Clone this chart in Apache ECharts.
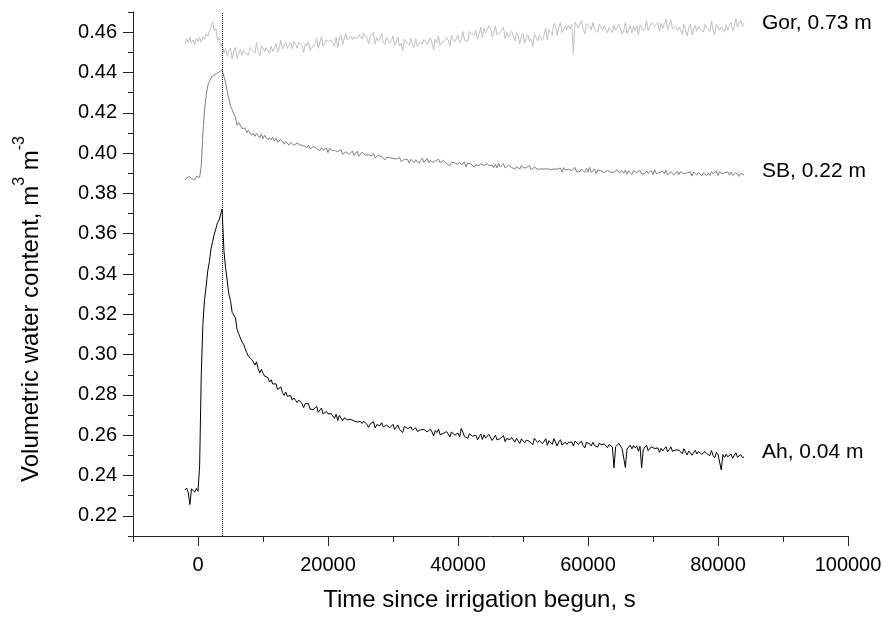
<!DOCTYPE html>
<html>
<head>
<meta charset="utf-8">
<script src="https://cdn.jsdelivr.net/npm/echarts/dist/echarts.min.js"></script>
<style>
html,body{margin:0;padding:0;background:#fff;}
#chart{width:886px;height:618px;}
</style>
</head>
<body>
<div id="chart"></div>
<script>
// Time since irrigation begun, s
const time = [-2000,-1750,-1500,-1250,-1000,-750,-500,-250,0,
250,500,750,1000,1250,1500,1750,2000,2250,2500,2750,3000,3250,3500,
3700,4000,4250,4500,4750,
5000,5250,5500,5750,6000,6250,6500,6750,
7000,7250,7500,7750,8000,8250,8500,8750,
9000,9250,9500,9750,10000,10250,10500,10750,
11000,11250,11500,11750,12000,12250,12500,12750,
13000,13250,13500,13750,14000,14250,14500,14750,
15000,15250,15500,15750,16000,16250,16500,16750,
17000,17250,17500,17750,18000,18250,18500,18750,
19000,19250,19500,19750,20000,20250,20500,20750,
21000,21250,21500,21750,22000,22250,22500,22750,
23000,23250,23500,23750,24000,24250,24500,24750,
25000,25250,25500,25750,26000,26250,26500,26750,
27000,27250,27500,27750,28000,28250,28500,28750,
29000,29250,29500,29750,30000,30250,30500,30750,
31000,31250,31500,31750,32000,32250,32500,32750,
33000,33250,33500,33750,34000,34250,34500,34750,
35000,35250,35500,35750,36000,36250,36500,36750,
37000,37250,37500,37750,38000,38250,38500,38750,
39000,39250,39500,39750,40000,40250,40500,40750,
41000,41250,41500,41750,42000,42250,42500,42750,
43000,43250,43500,43750,44000,44250,44500,44750,
45000,45250,45500,45750,46000,46250,46500,46750,
47000,47250,47500,47750,48000,48250,48500,48750,
49000,49250,49500,49750,50000,50250,50500,50750,
51000,51250,51500,51750,52000,52250,52500,52750,
53000,53250,53500,53750,54000,54250,54500,54750,
55000,55250,55500,55750,56000,56250,56500,56750,
57000,57250,57500,57750,58000,58250,58500,58750,
59000,59250,59500,59750,60000,60250,60500,60750,
61000,61250,61500,61750,62000,62250,62500,62750,
63000,63250,63500,63750,64000,64250,64500,64750,
65000,65250,65500,65750,66000,66250,66500,66750,
67000,67250,67500,67750,68000,68250,68500,68750,
69000,69250,69500,69750,70000,70250,70500,70750,
71000,71250,71500,71750,72000,72250,72500,72750,
73000,73250,73500,73750,74000,74250,74500,74750,
75000,75250,75500,75750,76000,76250,76500,76750,
77000,77250,77500,77750,78000,78250,78500,78750,
79000,79250,79500,79750,80000,80250,80500,80750,
81000,81250,81500,81750,82000,82250,82500,82750,
83000,83250,83500,83750,84000];

// Gor, 0.73 m
const gor = [0.4540,0.4568,0.4548,0.4575,0.4545,0.4562,0.4538,0.4570,0.4552,
0.4575,0.4550,0.4578,0.4565,0.4592,0.4580,0.4605,0.4625,0.4650,0.4605,0.4618,0.4560,0.4575,0.4530,
0.4545,0.4495,0.4520,0.4482,0.4510,
0.4521,0.4468,0.4506,0.4523,0.4469,0.4472,0.4516,0.4486,
0.4512,0.4497,0.4495,0.4485,0.4525,0.4513,0.4504,0.4495,
0.4548,0.4502,0.4482,0.4534,0.4522,0.4504,0.4523,0.4525,
0.4495,0.4531,0.4504,0.4522,0.4542,0.4501,0.4520,0.4560,
0.4516,0.4509,0.4551,0.4520,0.4536,0.4551,0.4517,0.4554,
0.4539,0.4521,0.4550,0.4551,0.4532,0.4498,0.4543,0.4532,
0.4552,0.4508,0.4523,0.4520,0.4544,0.4568,0.4520,0.4527,
0.4578,0.4528,0.4529,0.4562,0.4552,0.4543,0.4561,0.4569,
0.4531,0.4575,0.4522,0.4577,0.4587,0.4539,0.4571,0.4592,
0.4562,0.4558,0.4580,0.4563,0.4576,0.4579,0.4568,0.4587,
0.4586,0.4566,0.4594,0.4588,0.4569,0.4542,0.4580,0.4579,
0.4598,0.4542,0.4574,0.4555,0.4569,0.4593,0.4551,0.4539,
0.4575,0.4557,0.4544,0.4559,0.4580,0.4533,0.4551,0.4577,
0.4532,0.4544,0.4507,0.4566,0.4558,0.4544,0.4534,0.4569,
0.4535,0.4525,0.4567,0.4529,0.4542,0.4552,0.4540,0.4563,
0.4553,0.4540,0.4543,0.4572,0.4544,0.4512,0.4565,0.4547,
0.4582,0.4533,0.4547,0.4546,0.4560,0.4574,0.4558,0.4531,
0.4583,0.4564,0.4553,0.4562,0.4585,0.4548,0.4563,0.4603,
0.4561,0.4568,0.4554,0.4603,0.4592,0.4583,0.4587,0.4608,
0.4565,0.4591,0.4624,0.4571,0.4620,0.4596,0.4587,0.4631,
0.4618,0.4576,0.4595,0.4632,0.4587,0.4589,0.4599,0.4596,
0.4625,0.4568,0.4599,0.4575,0.4587,0.4606,0.4584,0.4558,
0.4598,0.4582,0.4542,0.4583,0.4593,0.4545,0.4570,0.4587,
0.4555,0.4565,0.4528,0.4591,0.4575,0.4556,0.4583,0.4588,
0.4560,0.4586,0.4620,0.4562,0.4613,0.4599,0.4585,0.4644,
0.4632,0.4583,0.4623,0.4648,0.4598,0.4606,0.4629,0.4613,
0.4634,0.4615,0.4638,0.4494,0.4650,0.4636,0.4621,0.4618,
0.4657,0.4614,0.4592,0.4642,0.4638,0.4628,0.4613,0.4648,
0.4614,0.4617,0.4600,0.4641,0.4625,0.4610,0.4631,0.4637,
0.4596,0.4623,0.4627,0.4599,0.4635,0.4609,0.4605,0.4640,
0.4638,0.4591,0.4609,0.4647,0.4592,0.4587,0.4632,0.4597,
0.4631,0.4608,0.4632,0.4586,0.4635,0.4630,0.4608,0.4618,
0.4657,0.4607,0.4608,0.4646,0.4637,0.4631,0.4628,0.4647,
0.4604,0.4644,0.4617,0.4644,0.4664,0.4612,0.4636,0.4661,
0.4615,0.4612,0.4630,0.4608,0.4626,0.4635,0.4589,0.4639,
0.4633,0.4582,0.4621,0.4640,0.4587,0.4590,0.4634,0.4604,
0.4630,0.4614,0.4610,0.4600,0.4638,0.4624,0.4614,0.4603,
0.4655,0.4608,0.4587,0.4639,0.4626,0.4608,0.4627,0.4630,
0.4600,0.4637,0.4610,0.4629,0.4649,0.4608,0.4628,0.4667,
0.4624,0.4617,0.4660,0.4629,0.4645];

// SB, 0.22 m
const sb = [0.3866,0.3878,0.3870,0.3883,0.3872,0.3880,0.3868,0.3884,0.3876,
0.3880,0.3935,0.4095,0.4215,0.4285,0.4335,0.4355,0.4372,0.4383,0.4379,0.4392,0.4388,0.4402,0.4398,
0.4413,0.4378,0.4348,0.4305,0.4268,
0.4234,0.4216,0.4194,0.4180,0.4138,0.4152,0.4145,0.4123,
0.4131,0.4123,0.4102,0.4113,0.4115,0.4088,0.4098,0.4083,
0.4098,0.4086,0.4076,0.4095,0.4071,0.4088,0.4077,0.4067,
0.4077,0.4066,0.4079,0.4060,0.4074,0.4054,0.4050,0.4068,
0.4069,0.4044,0.4057,0.4061,0.4039,0.4054,0.4055,0.4038,
0.4033,0.4050,0.4043,0.4040,0.4034,0.4036,0.4035,0.4028,
0.4040,0.4022,0.4013,0.4032,0.4030,0.4023,0.4016,0.4011,
0.4027,0.4014,0.4014,0.4025,0.4002,0.4024,0.4014,0.4007,
0.4013,0.4007,0.4007,0.4006,0.4017,0.3994,0.3996,0.4006,
0.4015,0.3993,0.3998,0.4010,0.3988,0.3998,0.4009,0.3985,
0.3988,0.4004,0.3996,0.3990,0.3984,0.3991,0.3987,0.3986,
0.3998,0.3976,0.3978,0.3990,0.3986,0.3981,0.3979,0.3967,
0.3978,0.3981,0.3977,0.3980,0.3974,0.3979,0.3970,0.3973,
0.3978,0.3958,0.3966,0.3969,0.3972,0.3967,0.3950,0.3969,
0.3976,0.3953,0.3967,0.3971,0.3949,0.3964,0.3975,0.3954,
0.3952,0.3973,0.3952,0.3964,0.3954,0.3958,0.3960,0.3951,
0.3970,0.3951,0.3944,0.3964,0.3959,0.3948,0.3957,0.3937,
0.3955,0.3956,0.3952,0.3951,0.3944,0.3954,0.3942,0.3951,
0.3955,0.3931,0.3950,0.3946,0.3946,0.3943,0.3931,0.3942,
0.3944,0.3937,0.3947,0.3943,0.3938,0.3936,0.3948,0.3937,
0.3934,0.3941,0.3928,0.3944,0.3927,0.3948,0.3931,0.3930,
0.3947,0.3926,0.3928,0.3939,0.3935,0.3929,0.3937,0.3920,
0.3933,0.3939,0.3921,0.3938,0.3927,0.3933,0.3927,0.3927,
0.3938,0.3917,0.3926,0.3930,0.3929,0.3920,0.3918,0.3921,
0.3930,0.3921,0.3930,0.3922,0.3916,0.3918,0.3927,0.3921,
0.3917,0.3920,0.3917,0.3926,0.3905,0.3928,0.3916,0.3907,
0.3920,0.3915,0.3913,0.3916,0.3929,0.3906,0.3915,0.3908,
0.3921,0.3913,0.3903,0.3924,0.3906,0.3929,0.3904,0.3912,
0.3921,0.3898,0.3916,0.3911,0.3911,0.3906,0.3904,0.3909,
0.3914,0.3909,0.3905,0.3914,0.3905,0.3903,0.3918,0.3903,
0.3907,0.3912,0.3900,0.3916,0.3895,0.3912,0.3910,0.3893,
0.3913,0.3906,0.3903,0.3902,0.3914,0.3895,0.3901,0.3899,
0.3911,0.3899,0.3900,0.3914,0.3893,0.3918,0.3898,0.3898,
0.3903,0.3896,0.3911,0.3898,0.3915,0.3893,0.3892,0.3907,
0.3911,0.3892,0.3897,0.3910,0.3893,0.3908,0.3904,0.3897,
0.3899,0.3902,0.3900,0.3907,0.3886,0.3907,0.3905,0.3890,
0.3905,0.3902,0.3887,0.3903,0.3911,0.3888,0.3900,0.3889,
0.3908,0.3898,0.3890,0.3911,0.3889,0.3908,0.3898,0.3890,
0.3902,0.3893,0.3907,0.3890,0.3906,0.3888,0.3884,0.3904,
0.3907,0.3884,0.3899,0.3905,0.3892];

// Ah, 0.04 m
const ah = [0.2328,0.2338,0.2315,0.2256,0.2334,0.2330,0.2318,0.2336,0.2322,
0.2450,0.2900,0.3150,0.3272,0.3338,0.3415,0.3462,0.3525,0.3562,0.3598,0.3625,0.3655,0.3668,0.3698,
0.3722,0.3510,0.3428,0.3365,0.3300,
0.3268,0.3210,0.3203,0.3183,0.3126,0.3105,0.3104,0.3063,
0.3052,0.3030,0.3010,0.2992,0.2996,0.2977,0.2964,0.2948,
0.2964,0.2930,0.2909,0.2927,0.2908,0.2893,0.2894,0.2886,
0.2864,0.2875,0.2854,0.2852,0.2855,0.2827,0.2827,0.2840,
0.2811,0.2798,0.2814,0.2793,0.2792,0.2797,0.2774,0.2785,
0.2774,0.2762,0.2774,0.2769,0.2758,0.2737,0.2757,0.2749,
0.2756,0.2729,0.2731,0.2728,0.2734,0.2744,0.2714,0.2714,
0.2735,0.2705,0.2704,0.2718,0.2706,0.2701,0.2707,0.2706,
0.2684,0.2704,0.2673,0.2698,0.2700,0.2672,0.2686,0.2692,
0.2677,0.2671,0.2678,0.2670,0.2671,0.2671,0.2665,0.2670,
0.2669,0.2658,0.2670,0.2662,0.2653,0.2639,0.2657,0.2657,
0.2667,0.2636,0.2652,0.2643,0.2648,0.2662,0.2641,0.2633,
0.2650,0.2643,0.2637,0.2643,0.2654,0.2629,0.2639,0.2651,
0.2629,0.2633,0.2614,0.2644,0.2638,0.2633,0.2624,0.2641,
0.2625,0.2617,0.2637,0.2619,0.2621,0.2627,0.2621,0.2629,
0.2624,0.2617,0.2616,0.2630,0.2616,0.2597,0.2623,0.2613,
0.2631,0.2603,0.2608,0.2609,0.2612,0.2618,0.2609,0.2592,
0.2616,0.2607,0.2600,0.2600,0.2611,0.2591,0.2634,0.2615,
0.2593,0.2591,0.2585,0.2607,0.2598,0.2595,0.2593,0.2600,
0.2578,0.2592,0.2606,0.2579,0.2602,0.2587,0.2584,0.2604,
0.2597,0.2574,0.2582,0.2601,0.2577,0.2580,0.2583,0.2582,
0.2598,0.2568,0.2584,0.2575,0.2578,0.2589,0.2581,0.2566,
0.2585,0.2581,0.2559,0.2582,0.2587,0.2562,0.2576,0.2584,
0.2570,0.2572,0.2553,0.2585,0.2574,0.2564,0.2574,0.2573,
0.2558,0.2570,0.2583,0.2550,0.2573,0.2564,0.2555,0.2583,
0.2576,0.2547,0.2567,0.2578,0.2551,0.2557,0.2565,0.2555,
0.2565,0.2556,0.2566,0.2547,0.2571,0.2562,0.2555,0.2553,
0.2570,0.2549,0.2537,0.2564,0.2560,0.2558,0.2547,0.2565,
0.2549,0.2548,0.2541,0.2562,0.2552,0.2547,0.2557,0.2558,
0.2538,0.2554,0.2552,0.2541,0.2438,0.2543,0.2543,0.2559,
0.2560,0.2533,0.2542,0.2440,0.2532,0.2530,0.2551,0.2532,
0.2549,0.2537,0.2547,0.2521,0.2545,0.2438,0.2529,0.2534,
0.2551,0.2523,0.2524,0.2542,0.2534,0.2534,0.2529,0.2537,
0.2515,0.2535,0.2522,0.2533,0.2543,0.2517,0.2529,0.2542,
0.2520,0.2518,0.2527,0.2519,0.2526,0.2533,0.2508,0.2533,
0.2532,0.2502,0.2522,0.2530,0.2501,0.2503,0.2525,0.2507,
0.2519,0.2511,0.2505,0.2501,0.2519,0.2509,0.2506,0.2499,
0.2524,0.2499,0.2488,0.2515,0.2505,0.2497,0.2428,0.2504,
0.2489,0.2506,0.2493,0.2497,0.2507,0.2486,0.2493,0.2513,
0.2491,0.2484,0.2504,0.2489,0.2492];

const seriesNames = ['Gor, 0.73 m', 'SB, 0.22 m', 'Ah, 0.04 m'];
const seriesColors = ['#c0c0c0', '#808080', '#000000'];
const irrigationEnd = 3700;

const xMajorTicks = [0, 20000, 40000, 60000, 80000, 100000];
const xMinorTicks = [-10000, 10000, 30000, 50000, 70000, 90000];
const yMajorTicks = [0.22, 0.24, 0.26, 0.28, 0.30, 0.32, 0.34, 0.36, 0.38, 0.40, 0.42, 0.44, 0.46];
const yMinorTicks = [0.21, 0.23, 0.25, 0.27, 0.29, 0.31, 0.33, 0.35, 0.37, 0.39, 0.41, 0.43, 0.45, 0.47];

[gor, sb, ah].forEach((a, k) => {
  if (a.length !== time.length) console.error('length mismatch', seriesNames[k], a.length, time.length);
});

const FONT = '"Liberation Sans", Arial, sans-serif';
const AX = '#222';

const chart = echarts.init(document.getElementById('chart'), null, {renderer: 'canvas'});

function pairs(vals) { return time.map((t, i) => [t, vals[i]]); }
const labelOffsets = [[0, 0], [0, -4], [0, -5]];

const series = [gor, sb, ah].map((vals, k) => ({
  name: seriesNames[k],
  type: 'line',
  data: pairs(vals),
  showSymbol: false,
  symbol: 'none',
  sampling: null,
  lineStyle: {color: seriesColors[k], width: 1},
  itemStyle: {color: seriesColors[k]},
  endLabel: {
    show: true,
    formatter: '{a}',
    color: '#000',
    fontFamily: FONT,
    fontSize: 21,
    distance: 18,
    offset: labelOffsets[k]
  },
  z: 3 + k,
  silent: true
}));

series[2].markLine = {
  silent: true,
  symbol: ['none', 'none'],
  label: {show: false},
  lineStyle: {color: '#000', type: 'dotted', width: 1},
  data: [{xAxis: irrigationEnd}]
};

const option = {
  animation: false,
  backgroundColor: '#fff',
  grid: {left: 133, right: 38, top: 12, bottom: 82},
  xAxis: [{
    type: 'value', min: -10000, max: 100000, position: 'bottom',
    name: 'Time since irrigation begun, s',
    nameLocation: 'middle', nameGap: 52,
    nameTextStyle: {fontFamily: FONT, fontSize: 24, color: '#000', padding: [0, 22, 0, 0]},
    axisLine: {show: true, onZero: false, lineStyle: {color: AX, width: 1}},
    axisTick: {show: true, length: 10, customValues: xMajorTicks, lineStyle: {color: AX}},
    axisLabel: {show: true, customValues: xMajorTicks, margin: 19, fontFamily: FONT, fontSize: 20, color: '#000',
      formatter: v => String(v)},
    splitLine: {show: false}
  }, {
    type: 'value', min: -10000, max: 100000, position: 'bottom',
    axisLine: {show: false, onZero: false},
    axisTick: {show: true, length: 6, customValues: xMinorTicks, lineStyle: {color: AX}},
    axisLabel: {show: false},
    splitLine: {show: false}
  }],
  yAxis: [{
    type: 'value', min: 0.21, max: 0.47, position: 'left',
    name: '{t|Volumetric water content, m}{s|3}{t| m}{s|-3}',
    nameLocation: 'middle', nameRotate: 90, nameGap: 83,
    nameTextStyle: {
      padding: [0, 70, 0, 0],
      rich: {
        t: {fontFamily: FONT, fontSize: 24, color: '#000', lineHeight: 38},
        s: {fontFamily: FONT, fontSize: 16, color: '#000', lineHeight: 16, verticalAlign: 'top'}
      }
    },
    axisLine: {show: true, onZero: false, lineStyle: {color: AX, width: 1}},
    axisTick: {show: true, length: 10, customValues: yMajorTicks, lineStyle: {color: AX}},
    axisLabel: {show: true, customValues: yMajorTicks, margin: 16, fontFamily: FONT, fontSize: 20, color: '#000',
      formatter: v => Number(v).toFixed(2)},
    splitLine: {show: false}
  }, {
    type: 'value', min: 0.21, max: 0.47, position: 'left',
    axisLine: {show: false, onZero: false},
    axisTick: {show: true, length: 5, customValues: yMinorTicks, lineStyle: {color: AX}},
    axisLabel: {show: false},
    splitLine: {show: false}
  }],
  series: series
};

chart.setOption(option);
</script>
</body>
</html>
